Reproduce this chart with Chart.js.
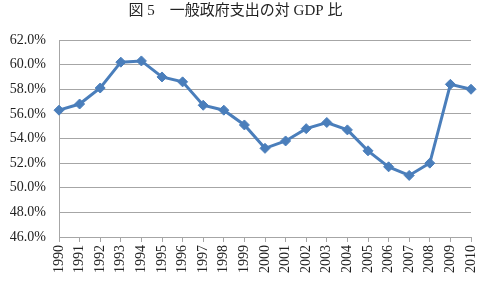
<!DOCTYPE html>
<html>
<head>
<meta charset="utf-8">
<script src="https://cdn.jsdelivr.net/npm/chart.js@4.4.1/dist/chart.umd.min.js"></script>
<style>
  html, body { margin: 0; padding: 0; background: #fff; }
  #wrap { width: 480px; height: 281px; }
</style>
</head>
<body>
<div id="wrap"><canvas id="ratioChart"></canvas></div>
<script>
// data
const years = ['1990', '1991', '1992', '1993', '1994', '1995', '1996', '1997', '1998', '1999', '2000',
    '2001', '2002', '2003', '2004', '2005', '2006', '2007', '2008', '2009', '2010'];
const ratio = [56.3, 56.8, 58.1, 60.2, 60.3, 59.0, 58.6, 56.7, 56.3, 55.1, 53.2,
    53.8, 54.8, 55.3, 54.7, 53.0, 51.7, 51.0, 52.0, 58.4, 58.0];
const yMin = 46, yMax = 62, yStep = 2;
const titleText = '図 5　一般政府支出の対 GDP 比';

const serif = '"Liberation Serif", "DejaVu Serif", "Noto Sans CJK JP", serif';

function ratioChart() {
    const ctx = document.getElementById('ratioChart');
    const myChart = new Chart(ctx, {
        type: 'line',
        data: {
            labels: years,
            datasets: [{
                label: '一般政府支出の対 GDP 比',
                data: ratio,
                borderColor: '#4a7ebb',
                backgroundColor: '#4a7ebb',
                borderWidth: 3,
                pointStyle: 'rectRot',
                pointRadius: 5,
                pointBorderWidth: 1,
                tension: 0
            }]
        },
        options: {
            responsive: true,
            maintainAspectRatio: false,
            animation: false,
            layout: { padding: { right: 9 } },
            plugins: {
                legend: { display: false },
                tooltip: { enabled: false },
                title: {
                    display: true,
                    text: titleText,
                    color: '#222',
                    font: { family: serif, size: 15, weight: 'normal' },
                    padding: { top: 2, bottom: 20 }
                }
            },
            scales: {
                x: {
                    offset: false,
                    afterFit: function(s) {
                        s.height = 44;
                        // keep the last rotated label from pushing the plot in
                        s.paddingLeft = 0;
                        s.paddingRight = 0;
                    },
                    grid: {
                        drawOnChartArea: false,
                        color: '#a6a6a6',
                        tickLength: 5
                    },
                    border: { color: '#a6a6a6', width: 1 },
                    ticks: {
                        autoSkip: false,
                        minRotation: 90,
                        maxRotation: 90,
                        color: '#222',
                        padding: 3,
                        font: { family: serif, size: 14 }
                    }
                },
                y: {
                    min: yMin,
                    max: yMax,
                    afterFit: function(s) { s.width = 59; },
                    grid: {
                        color: '#a6a6a6',
                        drawTicks: false
                    },
                    border: { color: '#a6a6a6', width: 1 },
                    ticks: {
                        stepSize: yStep,
                        color: '#222',
                        padding: 13,
                        font: { family: serif, size: 14 },
                        callback: function(value) { return value.toFixed(1) + '%'; }
                    }
                }
            }
        }
    });
    return myChart
}

ratioChart();
</script>
</body>
</html>
